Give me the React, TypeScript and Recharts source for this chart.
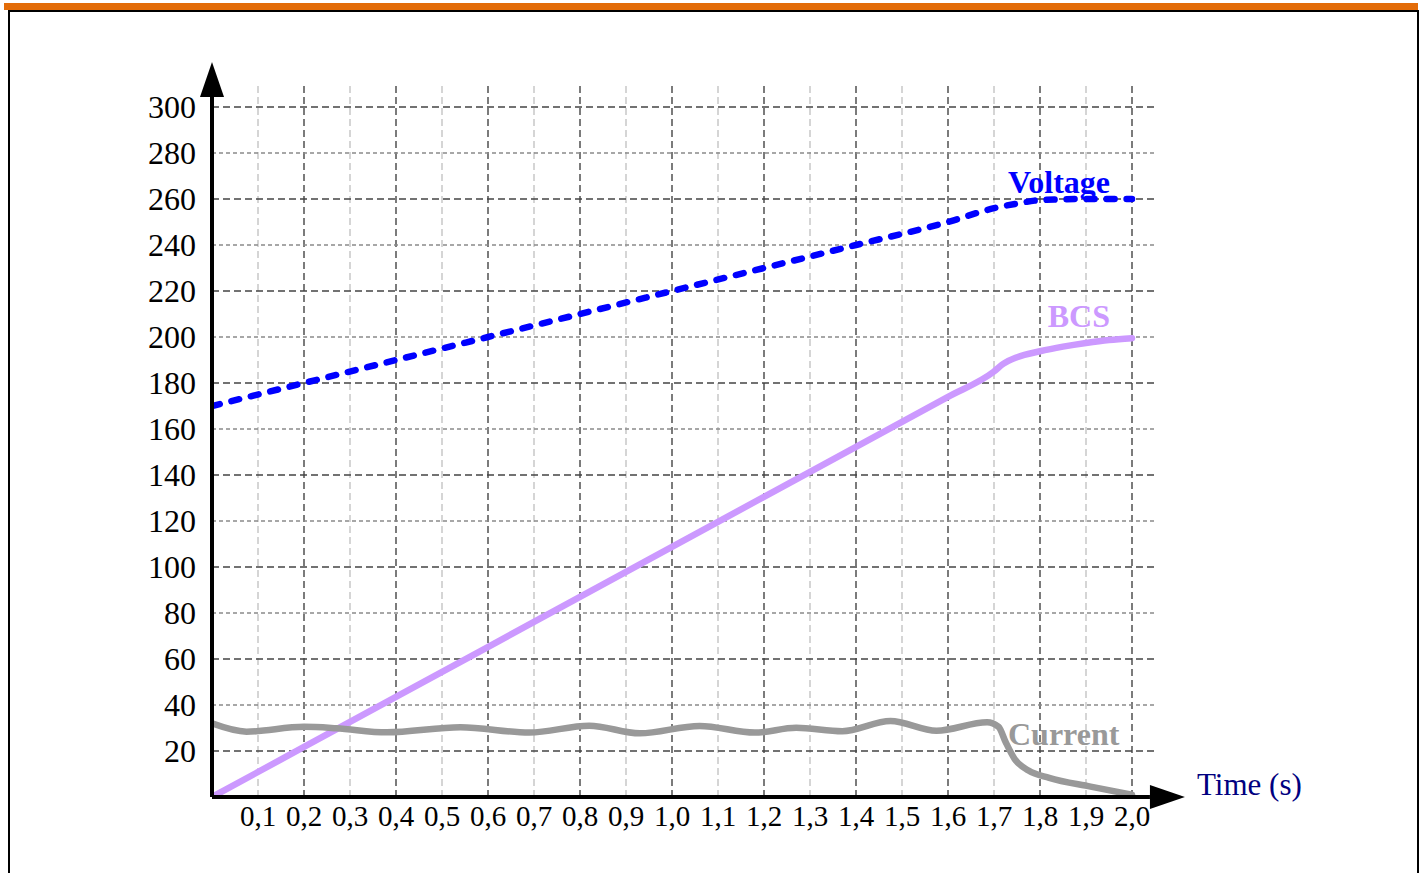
import { LineChart, Line, XAxis, YAxis, ReferenceLine, ReferenceDot } from "recharts";

const xTicks = [0.1, 0.2, 0.3, 0.4, 0.5, 0.6, 0.7, 0.8, 0.9, 1.0, 1.1, 1.2, 1.3, 1.4, 1.5, 1.6, 1.7, 1.8, 1.9, 2.0];
const yTicks = [20, 40, 60, 80, 100, 120, 140, 160, 180, 200, 220, 240, 260, 280, 300];

// grid: alternating dark / light lines
const darkRows = [20, 60, 100, 140, 180, 220, 260, 300];
const lightRows = [40, 80, 120, 160, 200, 240, 280];
const darkCols = [0.2, 0.4, 0.6, 0.8, 1.0, 1.2, 1.4, 1.6, 1.8, 2.0];
const lightCols = [0.1, 0.3, 0.5, 0.7, 0.9, 1.1, 1.3, 1.5, 1.7, 1.9];

const voltageTime = [0, 0.2, 0.4, 0.6, 0.8, 1.0, 1.2, 1.4, 1.6, 1.7, 1.75, 1.8, 1.9, 2.0];
const voltageValues = [170, 180, 190, 200, 210, 220, 230, 240, 250, 256, 258, 259.5, 260, 260];

const bcsTime = [0, 0.4, 0.8, 1.2, 1.6, 1.7, 1.72, 1.75, 1.8, 1.85, 1.9, 1.95, 2.0];
const bcsValues = [0, 43.5, 87, 130.5, 174, 185, 188.3, 191.2, 193.8, 195.8, 197.4, 198.7, 199.5];

const currentTime = [0, 0.075, 0.2, 0.27, 0.38, 0.54, 0.69, 0.82, 0.93, 1.06, 1.18, 1.27, 1.37, 1.475, 1.575, 1.685, 1.71, 1.725, 1.745, 1.775, 1.82, 1.91, 2.0];
const currentValues = [32, 28.4, 30.5, 29.9, 28.1, 30.3, 28.0, 31.0, 27.7, 30.9, 28.0, 30.1, 28.6, 33.0, 28.8, 32.5, 30.5, 24, 16.5, 11.5, 8.3, 4.5, 1];

const voltageData = voltageTime.map((t, i) => ({ t, v: voltageValues[i] }));
const bcsData = bcsTime.map((t, i) => ({ t, v: bcsValues[i] }));
const currentData = currentTime.map((t, i) => ({ t, v: currentValues[i] }));

const serif = "'Liberation Serif', 'Times New Roman', serif";

const endLabel = (text: string, color: string, last: number, dx: number, dy: number, anchor: "start" | "end") =>
  (props: any) => {
    if (props.index !== last) return null;
    return (
      <text x={props.x + dx} y={props.y + dy} textAnchor={anchor} fill={color}
        fontFamily={serif} fontWeight="bold" fontSize={32}>
        {text}
      </text>
    );
  };

const upArrow = (props: any) => (
  <polygon points={`${props.cx - 12},${props.cy} ${props.cx + 12},${props.cy} ${props.cx},${props.cy - 35}`} fill="#000" />
);
const rightArrow = (props: any) => (
  <polygon points={`${props.cx},${props.cy - 12} ${props.cx},${props.cy + 12} ${props.cx + 35},${props.cy}`} fill="#000" />
);

export default function App() {
  return (
    <div style={{ position: "absolute", left: 0, top: 0, width: 1424, height: 873, overflow: "hidden", background: "#fff" }}>
      <div style={{ position: "absolute", left: 4, top: 3, width: 1414, height: 7, background: "#e36c09" }} />
      <div style={{ position: "absolute", left: 8, top: 10, width: 1411, height: 900, boxSizing: "border-box",
        borderTop: "2px solid #000", borderLeft: "2px solid #000", borderRight: "2px solid #000" }} />
      <div style={{ position: "absolute", left: 0, top: 0 }}>
        <LineChart width={1424} height={873} margin={{ top: 84, right: 269, bottom: 36, left: 152 }}>
          <XAxis dataKey="t" type="number" domain={[0, 2.05]} ticks={xTicks} allowDataOverflow
            axisLine={false} tickLine={false} height={40}
            tickFormatter={(v: number) => v.toFixed(1).replace(".", ",")}
            tick={{ fontSize: 29, fill: "#000", fontFamily: serif }} />
          <YAxis type="number" domain={[0, 310]} ticks={yTicks} allowDataOverflow
            axisLine={false} tickLine={false} width={60} tickMargin={10}
            tick={{ fontSize: 32, fill: "#000", fontFamily: serif }} />

          {lightCols.map((x) => (
            <ReferenceLine key={"lc" + x} x={x} stroke="#c8c8c8" strokeWidth={1.5} strokeDasharray="7 4" />
          ))}
          {darkCols.map((x) => (
            <ReferenceLine key={"dc" + x} x={x} stroke="#444" strokeWidth={1.4} strokeDasharray="7 4" />
          ))}
          {lightRows.map((y) => (
            <ReferenceLine key={"lr" + y} y={y} stroke="#8a8a8a" strokeWidth={1.4} strokeDasharray="4 3" />
          ))}
          {darkRows.map((y) => (
            <ReferenceLine key={"dr" + y} y={y} stroke="#444" strokeWidth={1.4} strokeDasharray="7 4" />
          ))}

          <Line data={voltageData} dataKey="v" type="monotone" stroke="#0000ff" strokeWidth={6.5}
            strokeDasharray="8 12" strokeLinecap="round" dot={false} isAnimationActive={false}
            label={endLabel("Voltage", "#0000ff", voltageData.length - 1, -22, -6, "end")} />
          <Line data={bcsData} dataKey="v" type="monotone" stroke="#cc99ff" strokeWidth={6.5}
            strokeLinecap="round" strokeLinejoin="round" dot={false} isAnimationActive={false}
            label={endLabel("BCS", "#cc99ff", bcsData.length - 1, -22, -11, "end")} />
          <Line data={currentData} dataKey="v" type="monotone" stroke="#999999" strokeWidth={6.5}
            strokeLinecap="round" strokeLinejoin="round" dot={false} isAnimationActive={false}
            label={endLabel("Current", "#999999", currentData.length - 1, -124, -50, "start")} />

          <ReferenceLine segment={[{ x: 0, y: 0 }, { x: 0, y: 304.5 }]} stroke="#000" strokeWidth={4} ifOverflow="visible" />
          <ReferenceLine segment={[{ x: 0, y: 0 }, { x: 2.039, y: 0 }]} stroke="#000" strokeWidth={4} ifOverflow="visible" />
          <ReferenceDot x={0} y={304.3} r={1} ifOverflow="visible" shape={upArrow} />
          <ReferenceDot x={2.039} y={0} r={1} ifOverflow="visible" shape={rightArrow} />
        </LineChart>
      </div>
      <div style={{ position: "absolute", left: 1197, top: 767, fontFamily: serif, fontSize: 31, color: "#000080",
        whiteSpace: "nowrap", lineHeight: "36px" }}>
        Time (s)
      </div>
    </div>
  );
}
